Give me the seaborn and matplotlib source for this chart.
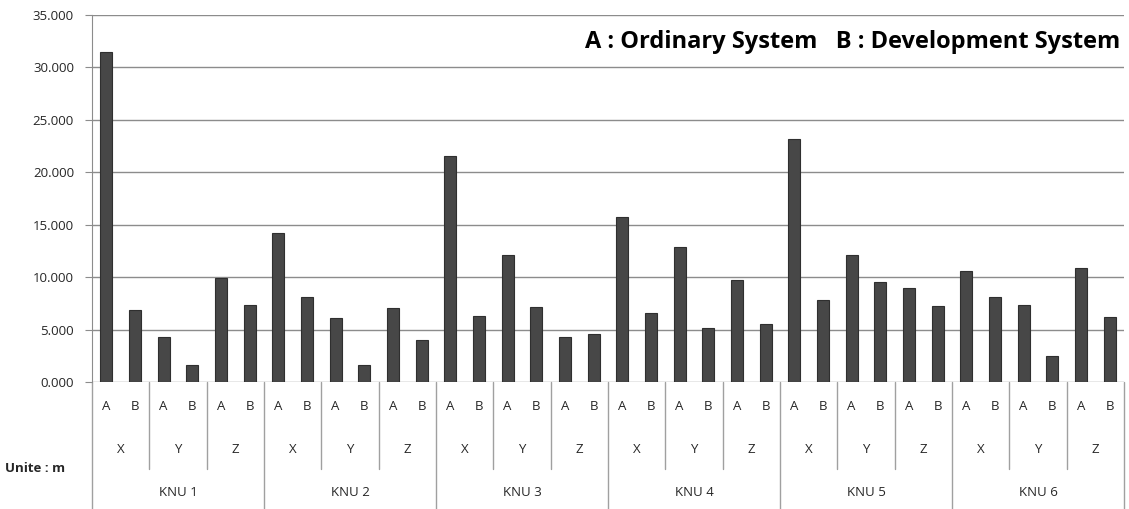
import matplotlib
matplotlib.use('Agg')
import matplotlib.pyplot as plt
import matplotlib.transforms as mtransforms
from matplotlib.ticker import FuncFormatter
import seaborn as sns
import pandas as pd

# --- Data (unit: m) ---
knus = ['KNU 1', 'KNU 2', 'KNU 3', 'KNU 4', 'KNU 5', 'KNU 6']
axes_names = ['X', 'Y', 'Z']
systems = ['A', 'B']

# values per KNU, order: XA, XB, YA, YB, ZA, ZB
knu1 = [31.45, 6.83, 4.32, 1.62, 9.91, 7.30]
knu2 = [14.20, 8.07, 6.10, 1.60, 7.02, 4.05]
knu3 = [21.60, 6.29, 12.10, 7.15, 4.33, 4.61]
knu4 = [15.77, 6.60, 12.87, 5.19, 9.76, 5.57]
knu5 = [23.16, 7.80, 12.10, 9.50, 9.00, 7.25]
knu6 = [10.60, 8.07, 7.34, 2.48, 10.90, 6.23]

title_text = 'A : Ordinary System   B : Development System'
unit_text = 'Unite : m'

# --- Build table ---
rows = []
for knu, vals in zip(knus, [knu1, knu2, knu3, knu4, knu5, knu6]):
    i = 0
    for a in axes_names:
        for s in systems:
            rows.append({'knu': knu, 'axis': a, 'system': s,
                         'slot': f'{knu}|{a}|{s}', 'value': vals[i]})
            i += 1
df = pd.DataFrame(rows)
order = list(df['slot'])

# --- Plot ---
sns.set_style('white')
plt.rcParams['font.family'] = ['Open Sans', 'DejaVu Sans']

fig = plt.figure(figsize=(11.29, 5.09), dpi=100)
ax = fig.add_axes([92 / 1129, 127 / 509, 1032 / 1129, 367 / 509])

sns.barplot(data=df, x='slot', y='value', order=order, color='#474747',
            width=0.43, edgecolor='#2f2f2f', linewidth=0.8, saturation=1,
            errorbar=None, ax=ax)

ax.set_xlim(-0.5, len(order) - 0.5)
ax.set_ylim(0, 35)
ax.set_yticks(range(0, 36, 5))
ax.yaxis.set_major_formatter(FuncFormatter(lambda v, p: f'{v:.3f}'))
ax.tick_params(axis='y', length=5, color='#8c8c8c', labelsize=9.5,
               labelcolor='#262626', pad=8, left=True)
ax.grid(axis='y', color='#8c8c8c', linewidth=1)
ax.set_axisbelow(True)
for side in ['top', 'right', 'bottom']:
    ax.spines[side].set_visible(False)
ax.spines['left'].set_color('#8c8c8c')
ax.set_xlabel('')
ax.set_ylabel('')

# multi-level category axis
ax.set_xticks([])
trans = mtransforms.blended_transform_factory(ax.transData, ax.transAxes)
line_kw = dict(color='#a0a0a0', linewidth=1, transform=trans, clip_on=False)
n = len(order)
for b in range(0, n + 1, 2):
    x = b - 0.5
    if b % 6 == 0:
        ax.plot([x, x], [0, -0.346], **line_kw)
    else:
        ax.plot([x, x], [0, -0.237], **line_kw)

lab_kw = dict(transform=trans, ha='center', va='center', fontsize=9.5,
              color='#262626', clip_on=False)
for i, row in df.iterrows():
    ax.text(i, -0.068, row['system'], **lab_kw)
for k in range(len(knus)):
    for j, a in enumerate(axes_names):
        ax.text(k * 6 + j * 2 + 0.5, -0.183, a, **lab_kw)
    ax.text(k * 6 + 2.5, -0.30, knus[k], **lab_kw)

fig.text(5 / 1129, 1 - 468 / 509, unit_text, fontsize=9.5, fontweight='bold',
         ha='left', va='center', color='#262626')
fig.text(1120 / 1129, 1 - 42 / 509, title_text, fontsize=17, fontweight='bold',
         ha='right', va='center', color='black')

fig.savefig('out.png', dpi=100, facecolor='white')
